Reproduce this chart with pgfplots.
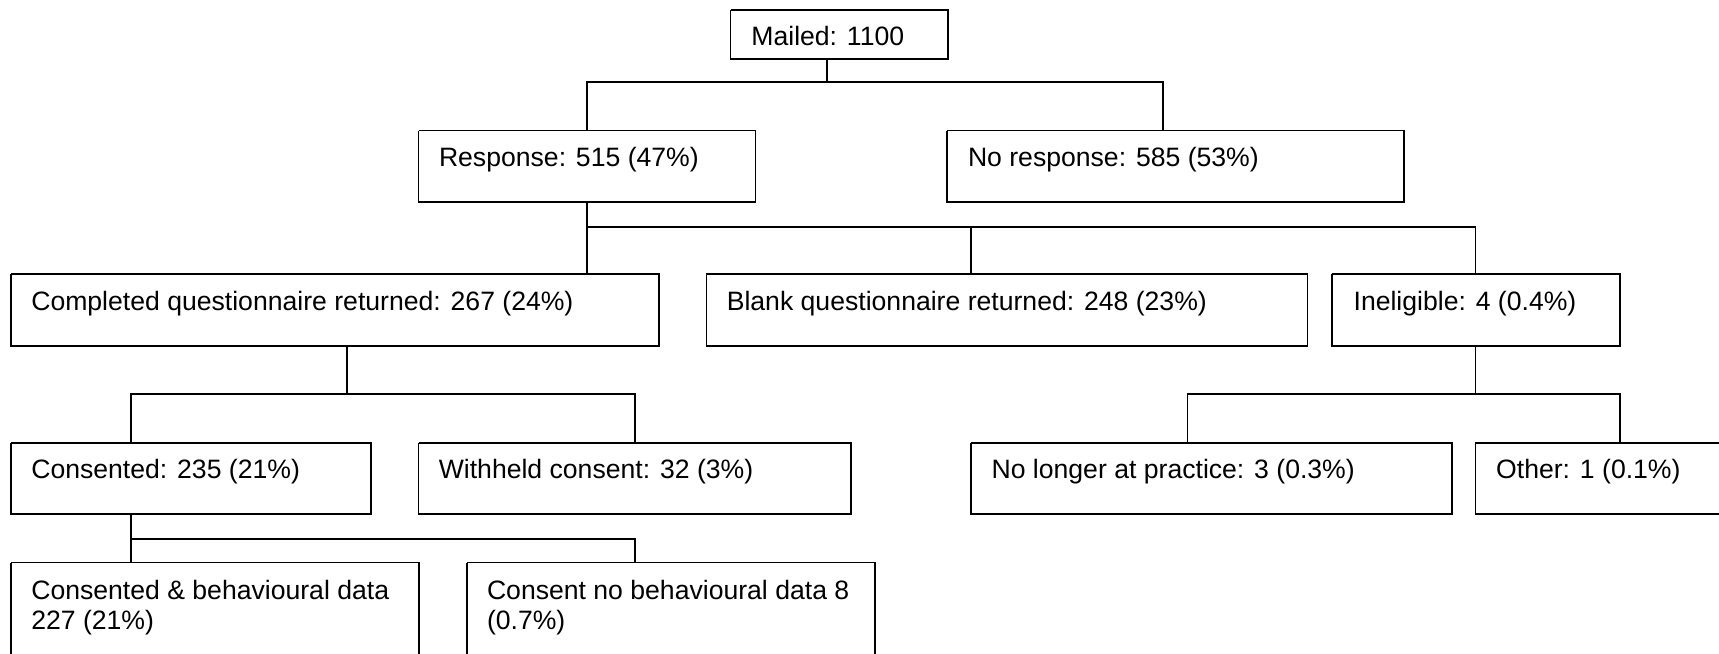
\documentclass[border=0pt]{standalone}
\usepackage{pgfplots}
\pgfplotsset{compat=1.18}
\usepackage{fontspec}
\setmainfont{Liberation Sans}
\tikzset{lbl/.style={font=\fontsize{13.3bp}{16bp}\selectfont, anchor=base west, inner sep=0pt, outer sep=0pt}}
\newcommand{\bx}[4]{\addplot[black,line width=0.9bp,mark=none] coordinates {(#1,#3) (#2,#3) (#2,#4) (#1,#4) (#1,#3)};}
\begin{document}
\begin{tikzpicture}
\begin{axis}[
  width=859.5bp, height=327bp, scale only axis,
  xmin=0, xmax=1719, ymin=0, ymax=654, y dir=reverse,
  hide axis, clip=true,
]
% boxes: x1 x2 y1 y2
\bx{730.5}{947.8}{10}{59}
\bx{418.5}{755.5}{130.5}{202.3}
\bx{946.7}{1404}{130.5}{202.3}
\bx{11}{659.2}{274.3}{346}
\bx{706.4}{1307.5}{274.3}{346}
\bx{1331.7}{1620.2}{274.3}{346}
\bx{11}{370.8}{442.7}{514.3}
\bx{418.5}{851.2}{442.7}{514.3}
\bx{970.8}{1452.3}{442.7}{514.3}
\bx{1475.4}{1760}{442.7}{514.3}
\bx{11}{419.3}{562.5}{700}
\bx{466.8}{874.8}{562.5}{700}
% connectors
\addplot[black,line width=0.9bp,mark=none] coordinates {(827,59) (827,82.3)};
\addplot[black,line width=0.9bp,mark=none] coordinates {(586.9,130.5) (586.9,82.3) (1163.3,82.3) (1163.3,130.5)};
\addplot[black,line width=0.9bp,mark=none] coordinates {(586.9,202.3) (586.9,274.3)};
\addplot[black,line width=0.9bp,mark=none] coordinates {(586.9,226.7) (1475.4,226.7) (1475.4,274.3)};
\addplot[black,line width=0.9bp,mark=none] coordinates {(971.3,226.7) (971.3,274.3)};
\addplot[black,line width=0.9bp,mark=none] coordinates {(346.7,346) (346.7,394.3)};
\addplot[black,line width=0.9bp,mark=none] coordinates {(131.1,442.7) (131.1,394.3) (635.2,394.3) (635.2,442.7)};
\addplot[black,line width=0.9bp,mark=none] coordinates {(1475.4,346) (1475.4,394.3)};
\addplot[black,line width=0.9bp,mark=none] coordinates {(1187.4,442.7) (1187.4,394.3) (1620.2,394.3) (1620.2,442.7)};
\addplot[black,line width=0.9bp,mark=none] coordinates {(131.1,514.3) (131.1,562.5)};
\addplot[black,line width=0.9bp,mark=none] coordinates {(131.1,539) (635.2,539) (635.2,562.5)};
% texts
\node[lbl] at (axis cs:751.4,46) {Mailed: 1100};
\node[lbl] at (axis cs:439,166.5) {Response: 515 (47\%)};
\node[lbl] at (axis cs:968,166.5) {No response: 585 (53\%)};
\node[lbl] at (axis cs:31.3,310.3) {Completed questionnaire returned: 267 (24\%)};
\node[lbl] at (axis cs:726.8,310.3) {Blank questionnaire returned: 248 (23\%)};
\node[lbl] at (axis cs:1353.6,310.3) {Ineligible: 4 (0.4\%)};
\node[lbl] at (axis cs:31.3,478.7) {Consented: 235 (21\%)};
\node[lbl] at (axis cs:438.8,478.7) {Withheld consent: 32 (3\%)};
\node[lbl] at (axis cs:991.6,478.7) {No longer at practice: 3 (0.3\%)};
\node[lbl] at (axis cs:1496.2,478.7) {Other: 1 (0.1\%)};
\node[lbl] at (axis cs:31.3,599) {Consented \& behavioural data};
\node[lbl] at (axis cs:31.3,629) {227 (21\%)};
\node[lbl] at (axis cs:487,599) {Consent no behavioural data 8};
\node[lbl] at (axis cs:487,629) {(0.7\%)};
\end{axis}
\pgfresetboundingbox
\path[use as bounding box] (current axis.south west) rectangle (current axis.north east);
\end{tikzpicture}
\end{document}
